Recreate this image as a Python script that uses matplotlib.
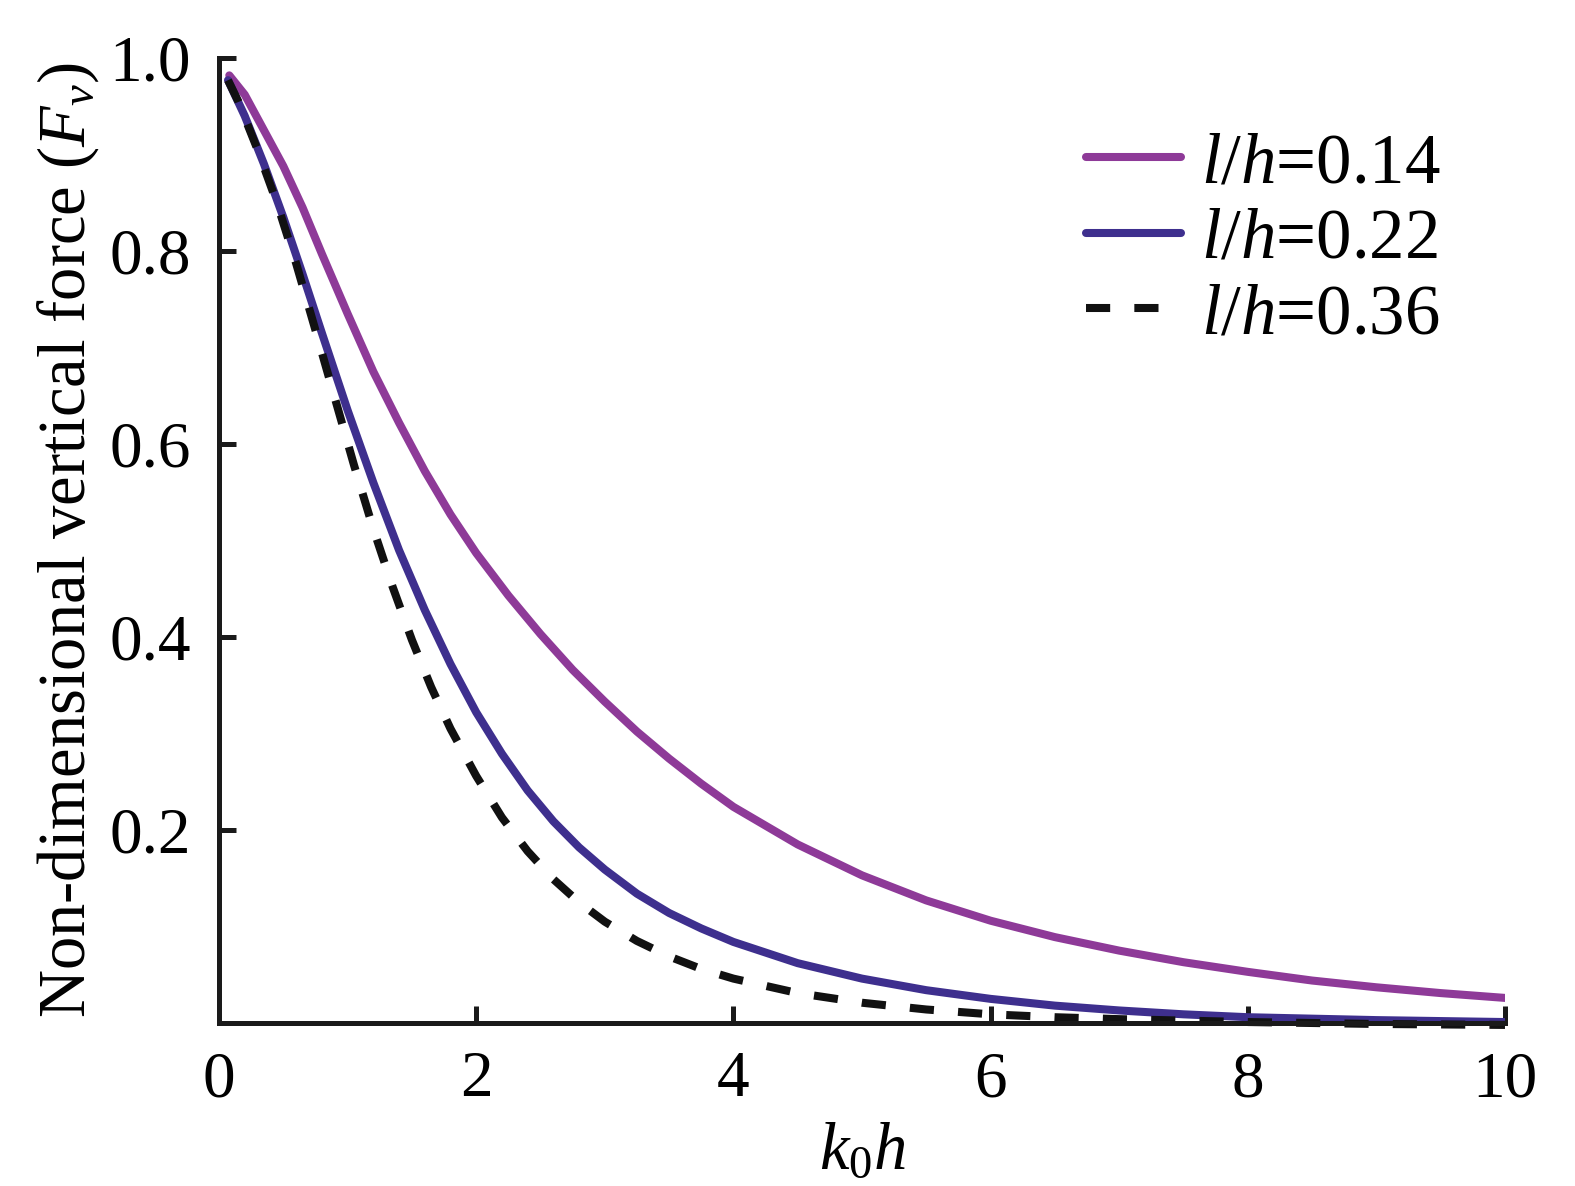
import matplotlib
matplotlib.use("Agg")
import matplotlib.pyplot as plt

plt.rcParams['font.family'] = ['Liberation Serif', 'DejaVu Serif']
plt.rcParams['mathtext.fontset'] = 'custom'
plt.rcParams['mathtext.rm'] = 'Liberation Serif'
plt.rcParams['mathtext.it'] = 'Liberation Serif:italic'
plt.rcParams['mathtext.bf'] = 'Liberation Serif:bold'

# Data
x_014 = [0.08, 0.2, 0.35, 0.5, 0.65, 0.8, 1.0, 1.2, 1.4, 1.6, 1.8, 2.0, 2.25, 2.5, 2.75,
         3.0, 3.25, 3.5, 3.75, 4.0, 4.5, 5.0, 5.5, 6.0, 6.5, 7.0, 7.5, 8.0, 8.5, 9.0,
         9.5, 10.0]
y_014 = [0.982, 0.962, 0.925, 0.888, 0.845, 0.797, 0.735, 0.675, 0.622, 0.572, 0.527,
         0.487, 0.443, 0.403, 0.366, 0.333, 0.302, 0.274, 0.248, 0.224, 0.185, 0.153,
         0.127, 0.106, 0.089, 0.075, 0.063, 0.053, 0.044, 0.037, 0.031, 0.026]

x_022 = [0.07, 0.2, 0.35, 0.5, 0.65, 0.8, 1.0, 1.2, 1.4, 1.6, 1.8, 2.0, 2.2, 2.4, 2.6,
         2.8, 3.0, 3.25, 3.5, 3.75, 4.0, 4.5, 5.0, 5.5, 6.0, 6.5, 7.0, 7.5, 8.0, 9.0, 10.0]
y_022 = [0.977, 0.94, 0.89, 0.835, 0.776, 0.715, 0.635, 0.56, 0.49, 0.428, 0.372, 0.322,
         0.279, 0.241, 0.209, 0.182, 0.159, 0.134, 0.114, 0.098, 0.084, 0.062, 0.046,
         0.034, 0.025, 0.018, 0.013, 0.009, 0.006, 0.003, 0.001]

x_036 = [0.07, 0.15, 0.3, 0.45, 0.6, 0.75, 0.9, 1.05, 1.2, 1.35, 1.5, 1.65, 1.8, 2.0,
         2.2, 2.4, 2.6, 2.8, 3.0, 3.25, 3.5, 3.75, 4.0, 4.5, 5.0, 5.5, 6.0, 6.5, 7.0,
         8.0, 9.0, 10.0]
y_036 = [0.977, 0.955, 0.905, 0.85, 0.787, 0.718, 0.648, 0.578, 0.512, 0.452, 0.397,
         0.348, 0.305, 0.256, 0.213, 0.178, 0.149, 0.125, 0.105, 0.085, 0.069, 0.056,
         0.046, 0.031, 0.021, 0.014, 0.009, 0.006, 0.004, 0.001, -0.001, -0.002]

labels = [r'$l/h$=0.14', r'$l/h$=0.22', r'$l/h$=0.36']
xticks = [0, 2, 4, 6, 8, 10]
yticks = [0.2, 0.4, 0.6, 0.8, 1.0]
ytick_labels = ['0.2', '0.4', '0.6', '0.8', '1.0']

fig = plt.figure(figsize=(15.75, 11.86), dpi=100)
ax = fig.add_axes([219/1575, 1-1023/1186, (1505-219)/1575, (1023-58)/1186])

lw = 5.8
ax.plot(x_014, y_014, color='#8E3A98', lw=lw, label=labels[0],
        solid_capstyle='round', solid_joinstyle='round')
ax.plot(x_022, y_022, color='#3E2F8E', lw=lw, label=labels[1],
        solid_capstyle='round', solid_joinstyle='round')
ax.plot(x_036, y_036, color='#111111', lw=lw, ls=(0, (3.0, 3.0)), label=labels[2],
        clip_on=False, dash_joinstyle='round')

ax.set_xlim(0, 10)
ax.set_ylim(0, 1.0)
for s in ['top', 'right']:
    ax.spines[s].set_visible(False)
for s in ['left', 'bottom']:
    ax.spines[s].set_linewidth(3.6)
    ax.spines[s].set_color('#1a1a1a')

ax.set_xticks(xticks)
ax.set_xticklabels([str(t) for t in xticks])
ax.set_yticks(yticks)
ax.set_yticklabels(ytick_labels)
ax.tick_params(direction='in', length=12, width=3.6, color='#1a1a1a',
               labelsize=47, pad=20)

ax.set_xlabel(r'$k_{\mathrm{0}}h$', fontsize=48, labelpad=8)
ax.set_ylabel(r'Non-dimensional vertical force ($F_v$)', fontsize=48, labelpad=6)

leg = ax.legend(loc='upper left', bbox_to_anchor=(1086/1575, 1-132/1186),
                bbox_transform=fig.transFigure, frameon=False, fontsize=51,
                handlelength=1.34, handletextpad=0.28, labelspacing=0.15,
                borderpad=0, borderaxespad=0)

fig.savefig('out.png', dpi=100)
